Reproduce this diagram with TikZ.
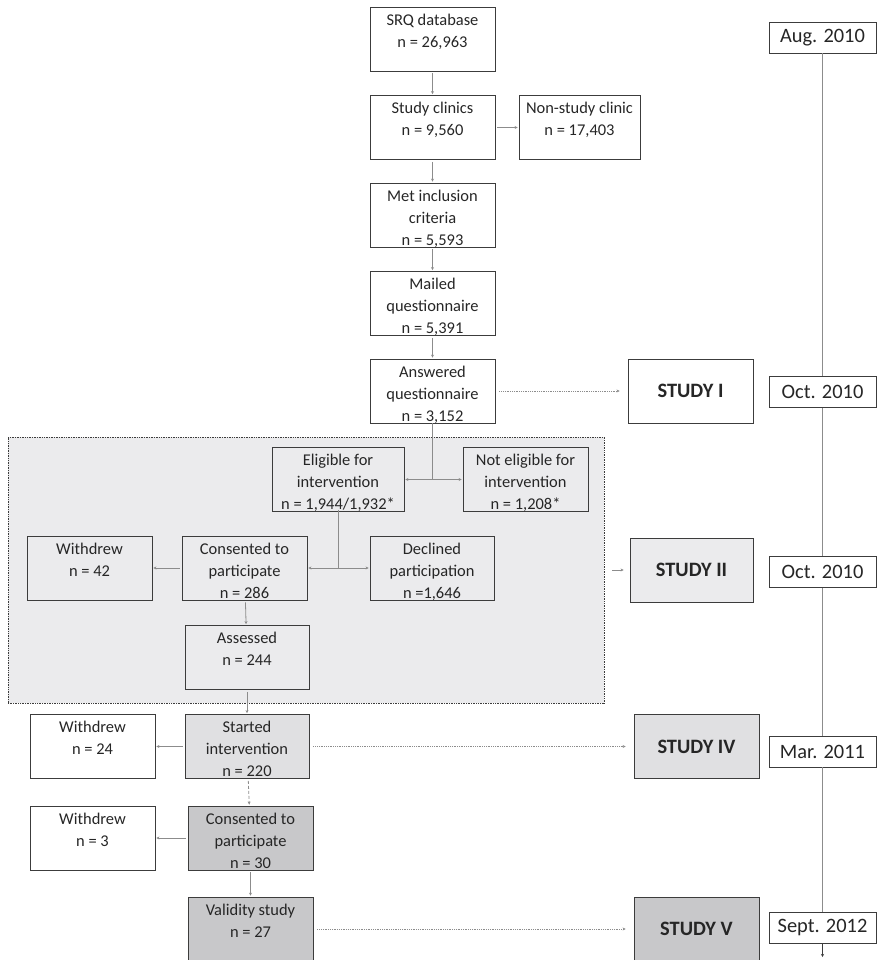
\documentclass[tikz,border=0pt]{standalone}
\usepackage{fontspec}
\setmainfont{Carlito}
\usetikzlibrary{arrows.meta}
\definecolor{boxline}{HTML}{3C3C3C}
\definecolor{linkgray}{HTML}{8C8C8C}
\definecolor{textcol}{HTML}{262626}
\definecolor{regionfill}{HTML}{EBEBED}
\definecolor{lightfill}{HTML}{E0E0E2}
\definecolor{darkfill}{HTML}{C8C8CA}
\newcommand{\boxtext}[2][119bp]{\parbox[c][58bp][t]{#1}{\centering\strut #2}}
\tikzset{
  flowbox/.style={draw=boxline, line width=0.8bp, inner sep=3bp, text=textcol, font=\fontsize{16.5}{22}\selectfont},
  studybox/.style={draw=boxline, line width=0.8bp, minimum width=125bp, minimum height=64bp, inner sep=0pt, text=textcol, font=\fontsize{20.5}{24}\selectfont\bfseries},
  datebox/.style={draw=boxline, fill=white, line width=0.8bp, minimum width=107bp, minimum height=31bp, inner sep=0pt, text=textcol, font=\fontsize{20.5}{24}\selectfont},
  region/.style={draw=boxline, densely dotted, line width=0.7bp, fill=regionfill, minimum width=596bp, minimum height=266bp, inner sep=0pt},
  link/.style={draw=linkgray, line width=0.8bp, shorten <=2bp, shorten >=1bp, -{Stealth[length=3bp,width=3bp]}},
  plainlink/.style={draw=linkgray, line width=0.8bp},
  dotlink/.style={link, densely dotted, shorten <=4bp, shorten >=8bp},
}
\begin{document}
\begin{tikzpicture}[x=1bp,y=-1bp]
\useasboundingbox (0,0) rectangle (878,960);
%%%% grey study II region
\node[region] (region) at (306,570) {};
%%%% main column
\node[flowbox] (srq) at (432.5,39) {\boxtext{SRQ database\\ n = 26,963}};
\node[flowbox] (clinics) at (432.5,127.5) {\boxtext{Study clinics\\ n = 9,560}};
\node[flowbox] (nonstudy) at (579.5,127.5) {\boxtext[115bp]{Non-study clinic\\ n = 17,403}};
\node[flowbox] (inclusion) at (432.5,215) {\boxtext{Met inclusion\\ criteria\\ n = 5,593}};
\node[flowbox] (mailed) at (432.5,303.5) {\boxtext{Mailed\\ questionnaire\\ n = 5,391}};
\node[flowbox] (answered) at (432.5,391) {\boxtext{Answered\\ questionnaire\\ n = 3,152}};
\node[flowbox] (eligible) at (338,479.5) {\boxtext[126bp]{Eligible for\\ intervention\\ n = 1,944/1,932*}};
\node[flowbox] (noteligible) at (525.5,479.5) {\boxtext{Not eligible for\\ intervention\\ n = 1,208*}};
\node[flowbox] (withdrewA) at (89.5,568) {\boxtext{Withdrew\\ n = 42}};
\node[flowbox] (consentA) at (244.5,568) {\boxtext{Consented to\\ participate\\ n = 286}};
\node[flowbox] (declined) at (432,568) {\boxtext[118bp]{Declined\\ participation\\ n =1,646}};
\node[flowbox] (assessed) at (247,657.5) {\boxtext[118bp]{Assessed\\ n = 244}};
\node[flowbox, fill=lightfill] (started) at (247,746.5) {\boxtext[118bp]{Started\\ intervention\\ n = 220}};
\node[flowbox, fill=white] (withdrewB) at (92.5,746.5) {\boxtext{Withdrew\\ n = 24}};
\node[flowbox, fill=darkfill] (consentB) at (250.5,838) {\boxtext{Consented to\\ participate\\ n = 30}};
\node[flowbox, fill=white] (withdrewC) at (92.5,838) {\boxtext{Withdrew\\ n = 3}};
\node[flowbox, fill=darkfill] (validity) at (250.5,929) {\boxtext{Validity study\\ n = 27}};
%%%% studies
\node[studybox] (study1) at (690.5,391) {STUDY I};
\node[studybox, fill=regionfill, minimum width=123bp] (study2) at (691.5,570) {STUDY II};
\node[studybox, fill=lightfill] (study4) at (696.5,746.5) {STUDY IV};
\node[studybox, fill=darkfill] (study5) at (696.5,929) {STUDY V};
%%%% timeline
\node[datebox] (aug) at (822.5,37.5) {Aug. 2010};
\node[datebox] (octA) at (822.5,392) {Oct. 2010};
\node[datebox] (octB) at (822.5,572) {Oct. 2010};
\node[datebox] (mar) at (822.5,751.5) {Mar. 2011};
\node[datebox] (sept) at (822.5,927.5) {Sept. 2012};
\coordinate (timeend) at (822.5,957);
\draw[plainlink] (aug) -- (octA);
\draw[plainlink] (octA) -- (octB);
\draw[plainlink] (octB) -- (mar);
\draw[plainlink] (mar) -- (sept);
\draw[plainlink, -{Stealth[length=3bp,width=3bp]}, draw=boxline] (sept) -- (timeend);
%%%% connectors
\draw[link] (srq) -- (clinics);
\draw[link] (clinics) -- (nonstudy);
\draw[link] (clinics) -- (inclusion);
\draw[link] (inclusion) -- (mailed);
\draw[link] (mailed) -- (answered);
\draw[dotlink] (answered) -- (study1);
\coordinate (splitA) at (answered.south |- eligible.east);
\draw[plainlink] (answered.south) -- (splitA);
\draw[link, shorten <=0pt] (splitA) -- (eligible.east);
\draw[link, shorten <=0pt] (splitA) -- (noteligible.west);
\coordinate (splitB) at (eligible.south |- consentA.east);
\draw[plainlink] ([yshift=2bp]eligible.south) -- (splitB);
\draw[link, shorten <=0pt] (splitB) -- (consentA.east);
\draw[link, shorten <=0pt] (splitB) -- (declined.west);
\draw[link] (consentA) -- (withdrewA);
\draw[link] (consentA) -- (assessed);
\draw[link] ([xshift=6bp]region.east) -- ([xshift=-5bp]study2.west);
\draw[link] (assessed) -- (started);
\draw[link] (started) -- (withdrewB);
\draw[dotlink] (started) -- (study4);
\draw[link, densely dashed] (started) -- (consentB);
\draw[link] (consentB) -- (withdrewC);
\draw[link] (consentB) -- (validity);
\draw[dotlink] (validity) -- (study5);
\end{tikzpicture}
\end{document}
